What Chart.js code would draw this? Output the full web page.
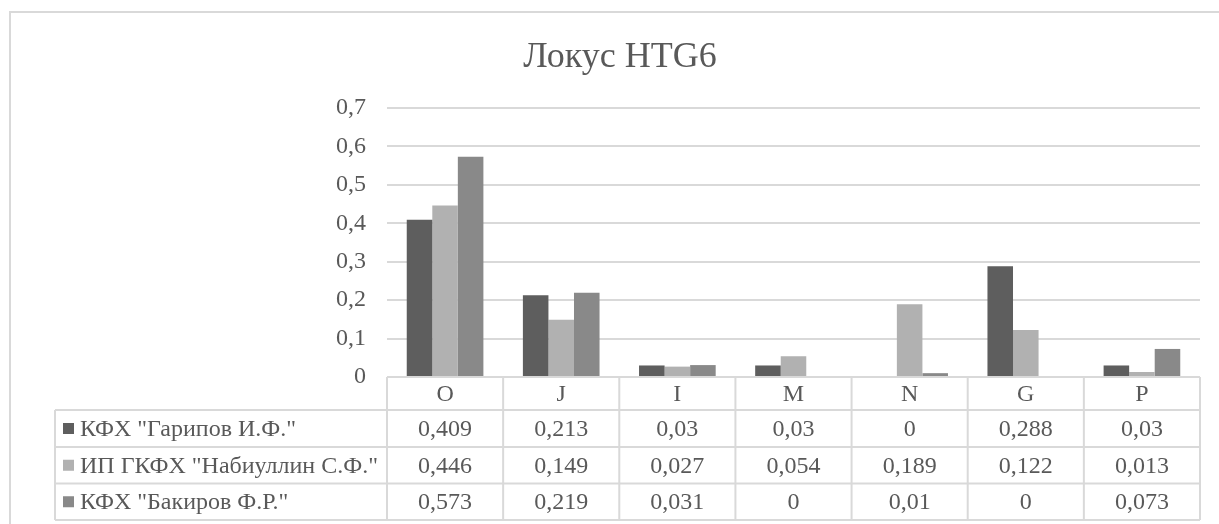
<!DOCTYPE html>
<html>
<head>
<meta charset="utf-8">
<script src="https://cdn.jsdelivr.net/npm/chart.js@4/dist/chart.umd.min.js"></script>
<style>
  html, body { margin: 0; padding: 0; background: #fff; }
  canvas { display: block; }
</style>
</head>
<body>
<canvas id="chart" width="1219" height="524"></canvas>
<script>
// Chart content
const chartTitle = 'Локус HTG6';
const categories = ['O', 'J', 'I', 'M', 'N', 'G', 'P'];
const seriesNames = ['КФХ "Гарипов И.Ф."', 'ИП ГКФХ "Набиуллин С.Ф."', 'КФХ "Бакиров Ф.Р."'];
const garipov   = [0.409, 0.213, 0.03, 0.03, 0, 0.288, 0.03];
const nabiullin = [0.446, 0.149, 0.027, 0.054, 0.189, 0.122, 0.013];
const bakirov   = [0.573, 0.219, 0.031, 0, 0.01, 0, 0.073];
const yTickValues = [0, 0.1, 0.2, 0.3, 0.4, 0.5, 0.6, 0.7];

// Styling
const seriesColors = ['#5e5e5e', '#b1b1b1', '#898989'];
const textColor = '#595959';
const lineColor = '#d9d9d9';
const fontFamily = "'Liberation Serif', serif";

const fmt = v => String(v).replace('.', ',');

const seriesValues = [garipov, nabiullin, bakirov];

// Title, outer frame and the data table under the plot
const tablePlugin = {
  id: 'dataTable',
  afterDraw(chart) {
    const ctx = chart.ctx;
    const area = chart.chartArea;
    const xs = chart.scales.x;
    const n = categories.length;
    const colW = (area.right - area.left) / n;
    const tableLeft = 55;
    const rowEdges = [area.bottom, 410, 447, 483.5, 520];

    ctx.save();
    // outer frame
    ctx.strokeStyle = lineColor;
    ctx.lineWidth = 2;
    ctx.strokeRect(10, 12, 1240, 540);

    // title
    ctx.fillStyle = textColor;
    ctx.font = '36px ' + fontFamily;
    ctx.textAlign = 'center';
    ctx.textBaseline = 'alphabetic';
    ctx.fillText(chartTitle, 620, 67);

    // table grid
    ctx.beginPath();
    ctx.moveTo(area.left, rowEdges[0]);
    ctx.lineTo(area.right, rowEdges[0]);
    for (let r = 1; r < rowEdges.length; r++) {
      ctx.moveTo(tableLeft, rowEdges[r]);
      ctx.lineTo(area.right, rowEdges[r]);
    }
    ctx.moveTo(tableLeft, rowEdges[1]);
    ctx.lineTo(tableLeft, rowEdges[4]);
    for (let i = 0; i <= n; i++) {
      const x = area.left + i * colW;
      ctx.moveTo(x, rowEdges[0]);
      ctx.lineTo(x, rowEdges[4]);
    }
    ctx.stroke();

    // category header + values
    ctx.font = '24px ' + fontFamily;
    ctx.fillStyle = textColor;
    ctx.textAlign = 'center';
    ctx.textBaseline = 'middle';
    categories.forEach((c, i) => {
      const cx = xs.getPixelForValue(i);
      ctx.fillText(c, cx, (rowEdges[0] + rowEdges[1]) / 2 + 1);
      seriesValues.forEach((vals, s) => {
        ctx.fillText(fmt(vals[i]), cx, (rowEdges[s + 1] + rowEdges[s + 2]) / 2 + 1);
      });
    });

    // series names with colour keys
    ctx.textAlign = 'left';
    seriesNames.forEach((name, s) => {
      const cy = (rowEdges[s + 1] + rowEdges[s + 2]) / 2;
      ctx.fillStyle = seriesColors[s];
      ctx.fillRect(63, cy - 5.5, 11, 11);
      ctx.fillStyle = textColor;
      ctx.fillText(name, 80, cy + 1);
    });
    ctx.restore();
  }
};

function drawChart() {
  new Chart(document.getElementById('chart'), {
    type: 'bar',
    data: {
      labels: categories,
      datasets: seriesNames.map((name, s) => ({
        label: name,
        data: seriesValues[s],
        backgroundColor: seriesColors[s],
        borderWidth: 0,
        categoryPercentage: 0.66,
        barPercentage: 1.0
      }))
    },
    options: {
      responsive: false,
      animation: false,
      devicePixelRatio: 1,
      layout: { padding: { top: 108, right: 19, bottom: 147, left: 0 } },
      plugins: {
        legend: { display: false },
        title: { display: false },
        tooltip: { enabled: false }
      },
      scales: {
        x: { display: false },
        y: {
          min: 0,
          max: 0.7,
          afterFit(scale) { scale.width = 387; },
          afterBuildTicks(scale) { scale.ticks = yTickValues.map(v => ({ value: v })); },
          border: { display: false },
          grid: { color: lineColor, lineWidth: 2, drawTicks: false },
          ticks: {
            padding: 21,
            color: textColor,
            font: { family: fontFamily, size: 24 },
            callback: v => fmt(Math.round(v * 10) / 10)
          }
        }
      }
    },
    plugins: [tablePlugin]
  });
}

// make sure the serif face is ready before the canvas text is drawn
Promise.all([
  document.fonts.load("24px 'Liberation Serif'", 'Локус HTG6 0,1'),
  document.fonts.load("36px 'Liberation Serif'", 'Локус HTG6')
]).then(drawChart, drawChart);
</script>
</body>
</html>
